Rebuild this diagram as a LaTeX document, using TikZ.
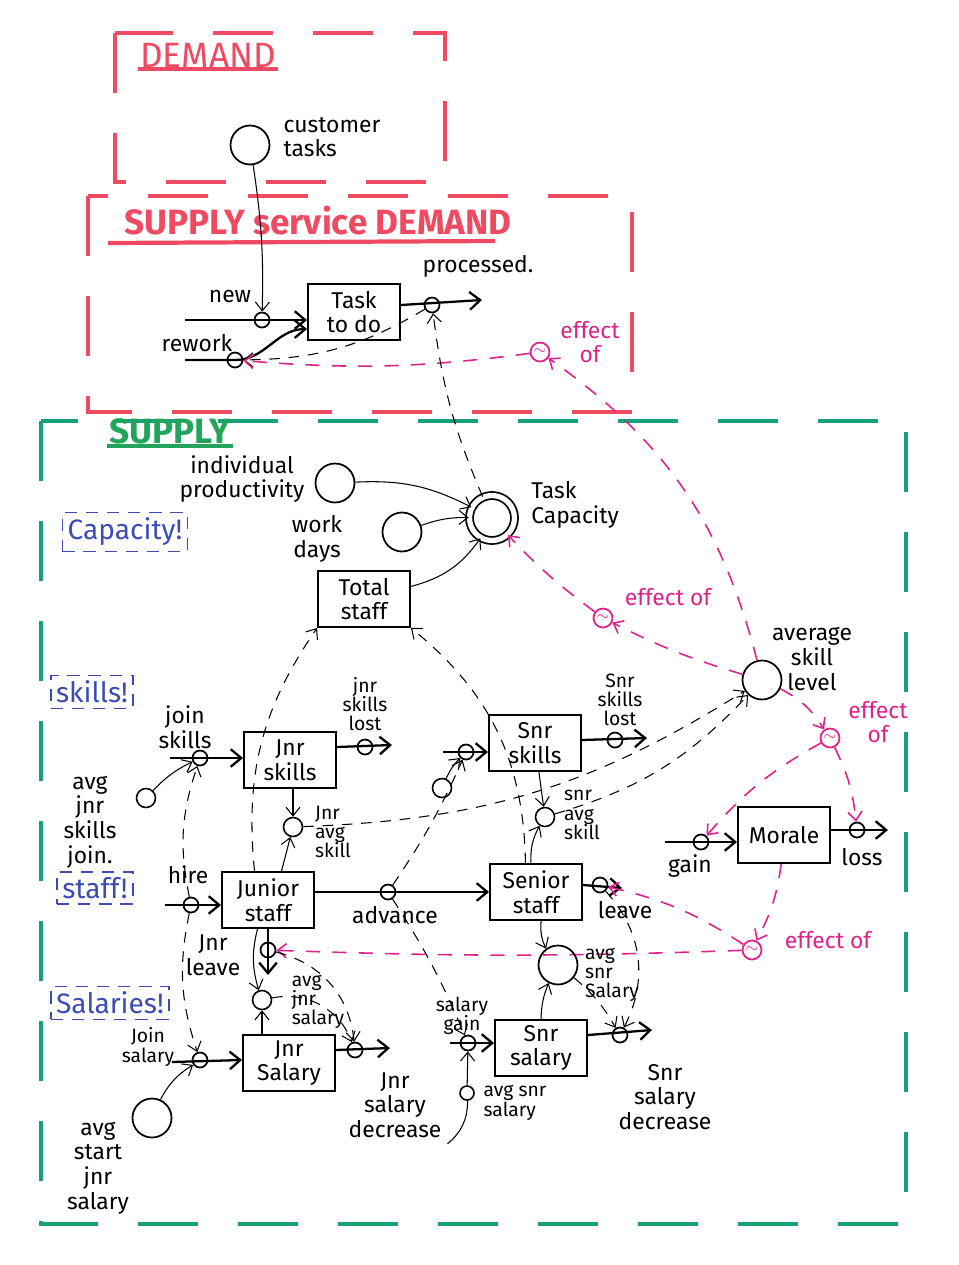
\documentclass[tikz,border=0pt]{standalone}
\usepackage{fontspec}
\setmainfont{Fira Sans}
\usepackage{tikz}
\usetikzlibrary{arrows.meta, positioning}
\definecolor{demandred}{HTML}{EE4B63}
\definecolor{effpink}{HTML}{E0208C}
\definecolor{supplygreen}{HTML}{17A07C}
\definecolor{titlegreen}{HTML}{22A45A}
\definecolor{tagblue}{HTML}{3D4BB5}

\begin{document}
\begin{tikzpicture}[x=0.02cm, y=-0.02cm,
  font=\fontsize{13}{14}\selectfont,
  region/.style={line width=2.4pt, dash pattern=on 1.2cm off 0.8cm},
  title/.style={font=\bfseries\fontsize{20}{22}\selectfont, inner sep=1pt},
  tag/.style={draw=tagblue, text=tagblue, line width=0.8pt, dash pattern=on 7pt off 5pt,
              font=\fontsize{16}{17}\selectfont, inner sep=3pt},
  stock/.style={draw, line width=1.1pt, minimum width=1.84cm, minimum height=1.12cm,
                align=center, inner sep=2pt},
  conv/.style={draw, circle, line width=1pt, minimum size=0.78cm, inner sep=0pt},
  smallconv/.style={draw, circle, line width=0.9pt, minimum size=0.38cm, inner sep=0pt},
  valve/.style={draw, circle, line width=1pt, minimum size=0.3cm, inner sep=0pt},
  effect/.style={draw=effpink, circle, line width=1pt, minimum size=0.38cm, inner sep=0pt,
                 text=effpink, font=\small},
  flow/.style={line width=1.3pt, -{Straight Barb[length=6pt,width=10pt]}},
  link/.style={line width=0.6pt, -{Straight Barb[length=5pt,width=8pt]}},
  dlink/.style={link, dash pattern=on 6pt off 5pt},
  plink/.style={link, draw=effpink, line width=0.9pt, dash pattern=on 8pt off 7pt},
  txt/.style={align=center},
  stxt/.style={align=center, font=\fontsize{11}{11}\selectfont},
  ptxt/.style={align=center, text=effpink},
]
\useasboundingbox (0,0) rectangle (959,1265);

% regions
\draw[region, demandred] (115,33) rectangle (445,182);
\draw[region, demandred] (88,196) rectangle (632,412);
\draw[region, supplygreen] (41,421) rectangle (906,1224);

\node[title, text=demandred, font=\fontsize{20}{22}\selectfont] (demT) at (208,55) {DEMAND};
\draw[demandred, line width=2pt] (demT.south west) -- (demT.south east);
\node[title, text=demandred] (ssdT) at (318,221) {SUPPLY service DEMAND};
\draw[demandred, line width=2.4pt] (108,243) -- (495,241);
\node[title, text=titlegreen] (supT) at (170,431) {SUPPLY};
\draw[titlegreen, line width=2pt] (supT.south west) -- (supT.south east);

\node[tag] (capT) at (125,532) {Capacity!};
\node[tag] (skT) at (92,692) {skills!};
\node[tag] (stT) at (95,888) {staff!};
\node[tag] (salT) at (110,1003) {Salaries!};

% demand
\node[conv] (cust) at (250,145) {};
\node[txt, align=left] at (332,137) {customer\\tasks};

% tasks to do
\node[stock] (todo) at (354,312) {Task\\to do};
\coordinate (newS) at (185,320);
\node[valve] (newV) at (262,320) {};
\draw[flow] (newS) -- (todo.west |- newV);
\node[txt] at (230,296) {new};
\coordinate (rewS) at (185,360);
\node[valve] (rewV) at (235,360) {};
\draw[flow] (rewS) -- (rewV.center) to[out=0, in=180] (todo.200);
\node[txt] at (197,343) {rework};
\node[valve] (procV) at (432,305) {};
\coordinate (procE) at (482,300);
\draw[flow] (todo.east |- procV) -- (procE);
\node[txt] at (478,266) {processed.};
\draw[link] (cust) to[bend left=5] (newV);
\draw[dlink] (procV) to[bend left=15] (rewV);

\node[effect] (eff1) at (540,352) {$\sim$};
\node[ptxt] at (590,342) {effect\\of};
\draw[plink] (eff1) to[bend left=6] (rewV);

% capacity
\node[conv] (indp) at (335,483) {};
\node[txt] at (242,479) {individual\\productivity};
\node[conv] (wdays) at (402,532) {};
\node[txt] at (317,539) {work\\days};
\node[conv, double, double distance=3pt, minimum size=0.9cm] (tcap) at (492,518) {};
\node[txt, align=left] at (575,505) {Task\\Capacity};
\node[stock] (tstaff) at (364,599) {Total\\staff};
\draw[link] (indp) to[bend left=15] (tcap);
\draw[link] (wdays) to[bend left=10] (tcap);
\draw[link] (tstaff.15) to[bend right=20] (tcap);
\draw[dlink] (tcap) to[bend left=8] (procV);

% skills
\node[stock] (jskill) at (290,760) {Jnr\\skills};
\coordinate (joinS) at (170,758);
\node[valve] (joinV) at (200,758) {};
\draw[flow] (joinS) -- (jskill.west |- joinV);
\node[txt] at (185,727) {join\\skills};
\node[smallconv] (ajjoin) at (146,798) {};
\node[txt] at (90,822) {avg\\jnr\\skills\\join.};
\draw[link] (ajjoin) to[bend left=10] (joinV);
\node[valve] (jlostV) at (365,747) {};
\coordinate (jlostE) at (392,745);
\draw[flow] (jskill.east |- jlostV) -- (jlostE);
\node[stxt] at (365,704) {jnr\\skills\\lost};

\node[stock] (sskill) at (535,743) {Snr\\skills};
\coordinate (sjoinS) at (443,752);
\node[valve] (sjoinV) at (466,752) {};
\draw[flow] (sjoinS) -- (sskill.west |- sjoinV);
\node[smallconv] (asjoin) at (442,788) {};
\draw[link] (asjoin) to[bend left=10] (sjoinV);
\node[valve] (slostV) at (615,740) {};
\coordinate (slostE) at (647,738);
\draw[flow] (sskill.east |- slostV) -- (slostE);
\node[stxt] at (620,700) {Snr\\skills\\lost};

\node[smallconv] (javg) at (293,827) {};
\node[stxt, align=left] at (333,832) {Jnr\\avg\\skill};
\draw[link] (jskill.south -| javg) -- (javg);
\node[smallconv] (savg) at (545,817) {};
\node[stxt, align=left] at (582,815) {snr\\avg\\skill};
\draw[link] (sskill) -- (savg);

\node[conv] (avgsk) at (762,680) {};
\node[txt] at (812,659) {average\\skill\\level};
\draw[dlink] (javg) to[bend right=15] (avgsk);
\draw[dlink] (savg) to[bend right=15] (avgsk);
\draw[plink] (avgsk) to[bend right=20] (eff1);

\node[effect] (eff2) at (603,618) {$\sim$};
\node[ptxt] at (668,597) {effect of};
\draw[plink] (avgsk) to[bend left=5] (eff2);
\draw[plink] (eff2) to[bend left=5] (tcap);

% morale
\node[effect] (eff3) at (830,738) {$\sim$};
\node[ptxt] at (878,722) {effect\\of};
\draw[plink] (avgsk) to[bend left=15] (eff3);
\node[stock] (morale) at (784,835) {Morale};
\coordinate (gainS) at (665,842);
\node[valve] (gainV) at (701,842) {};
\draw[flow] (gainS) -- (morale.west |- gainV);
\node[txt] at (690,866) {gain};
\node[valve] (lossV) at (857,830) {};
\coordinate (lossE) at (888,830);
\draw[flow] (morale.east |- lossV) -- (lossE);
\node[txt] at (862,857) {loss};
\draw[plink] (eff3) to[bend right=10] (gainV);
\draw[plink] (eff3) to[bend left=10] (lossV);
\node[effect] (eff4) at (752,950) {$\sim$};
\node[ptxt] at (828,940) {effect of};
\draw[plink] (morale) to[bend left=10] (eff4);

% staff
\node[stock] (jstaff) at (268,900) {Junior\\staff};
\coordinate (hireS) at (165,905);
\node[valve] (hireV) at (191,905) {};
\draw[flow] (hireS) -- (jstaff.west |- hireV);
\node[txt] at (188,875) {hire};
\node[stock] (sstaff) at (536,892) {Senior\\staff};
\node[valve] (advV) at (388,892) {};
\draw[flow] (jstaff.east |- advV) -- (sstaff.west |- advV);
\node[txt] at (395,915) {advance};
\node[valve] (sleaveV) at (600,885) {};
\coordinate (sleaveE) at (622,888);
\draw[flow] (sstaff.east |- sleaveV) -- (sleaveE);
\node[txt] at (625,910) {leave};
\node[valve] (jleaveV) at (268,950) {};
\coordinate (jleaveE) at (268,975);
\draw[flow] (jstaff.south) -- (jleaveE);
\node[txt] at (213,955) {Jnr\\leave};

\draw[link] (jstaff.65) -- (javg);
\draw[link] (sstaff.100) to[bend left=15] (savg);
\draw[dlink] (hireV) to[bend left=15] (joinV);
\draw[dlink] (advV) to[bend right=5] (sjoinV);
\draw[dlink] (jstaff.115) to[bend left=20] (tstaff.south west);
\draw[dlink] (sstaff.110) to[bend right=25] (tstaff.south east);
\draw[plink] (eff4) to[bend right=10] (sleaveV);
\draw[plink] (eff4) to[bend left=2] (jleaveV);

% salaries
\node[smallconv] (ajsal) at (262,1000) {};
\node[stxt, align=left] at (318,1002) {avg\\jnr\\salary};
\draw[link] (jstaff.250) to[bend right=15] (ajsal);
\node[stock] (jsal) at (289,1063) {Jnr\\Salary};
\coordinate (jsalJS) at (172,1062);
\node[valve] (jsalJV) at (200,1060) {};
\draw[flow] (jsalJS) -- (jsal.west |- jsalJV);
\node[stxt] at (148,1047) {Join\\salary};
\node[conv] (astart) at (152,1118) {};
\node[txt] at (98,1168) {avg\\start\\jnr\\salary};
\draw[link] (astart) to[bend left=15] (jsalJV);
\draw[link] (jsal.north -| ajsal) -- (ajsal);
\draw[dlink] (hireV) to[bend right=15] (jsalJV);
\node[valve] (jdecV) at (355,1050) {};
\coordinate (jdecE) at (390,1048);
\draw[flow] (jsal.east |- jdecV) -- (jdecE);
\node[txt] (jdecL) at (395,1105) {Jnr\\salary\\decrease};
\draw[dlink] (ajsal) to[bend left=40] (jdecV);
\draw[dlink] (jleaveV) to[bend left=35] (jdecV);

\node[stock] (ssal) at (541,1048) {Snr\\salary};
\coordinate (sgainS) at (450,1043);
\node[valve] (sgainV) at (468,1043) {};
\draw[flow] (sgainS) -- (ssal.west |- sgainV);
\node[stxt] at (462,1016) {salary\\gain};
\node[smallconv, minimum size=0.28cm] (asal) at (467,1093) {};
\node[stxt, align=left] at (515,1103) {avg snr\\salary};
\draw[link] (asal) -- (sgainV);
\draw[line width=0.6pt] (jdecL.south east) to[bend right=25] (asal);
\draw[dlink] (advV) to[bend left=5] (sgainV);

\node[conv] (assal) at (558,965) {};
\node[stxt, align=left] at (612,975) {avg\\snr\\Salary};
\draw[link] (sstaff.280) to[bend right=15] (assal);
\draw[link] (ssal.north) to[bend left=10] (assal);
\node[valve] (sdecV) at (620,1035) {};
\coordinate (sdecE) at (652,1030);
\draw[flow] (ssal.east |- sdecV) -- (sdecE);
\node[txt] at (665,1097) {Snr\\salary\\decrease};
\draw[dlink] (assal) to[bend left=10] (sdecV);
\draw[dlink] (sleaveV) to[bend left=35] (sdecV);

\end{tikzpicture}
\end{document}
